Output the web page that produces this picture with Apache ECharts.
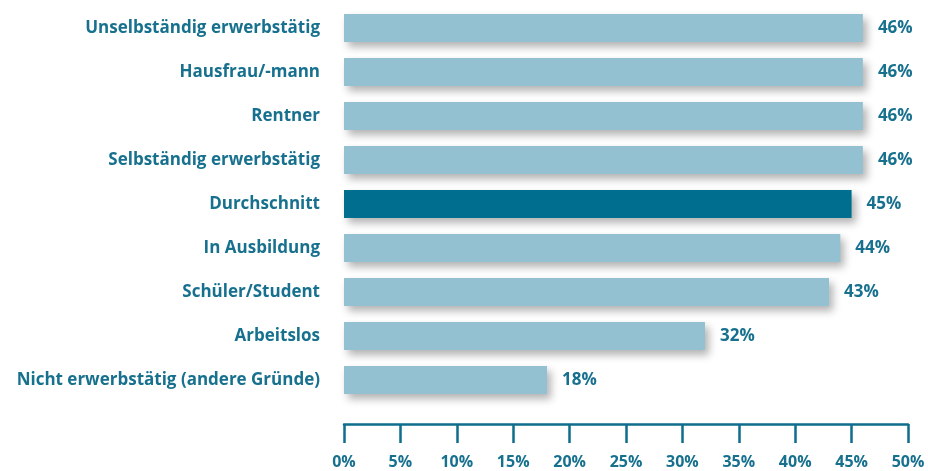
<!DOCTYPE html>
<html><head><meta charset="utf-8">
<script src="https://cdn.jsdelivr.net/npm/echarts@6/dist/echarts.min.js"></script>
<style>html,body{margin:0;padding:0;background:#fff}#c{width:928px;height:471px}</style>
</head><body><div id="c"></div>
<script>
const categories = ["Unselbständig erwerbstätig","Hausfrau/-mann","Rentner","Selbständig erwerbstätig","Durchschnitt","In Ausbildung","Schüler/Student","Arbeitslos","Nicht erwerbstätig (andere Gründe)"];
const values = [46, 46, 46, 46, 45, 44, 43, 32, 18];
const highlight = "Durchschnitt";
const tickLabels = ["0%","5%","10%","15%","20%","25%","30%","35%","40%","45%","50%"];

const textColor = "#17718e";
const font = "Open Sans";
const chart = echarts.init(document.getElementById('c'));
chart.setOption({
  animation:false,
  grid:{left:344,right:20,top:6,bottom:69},
  xAxis:{type:'value',min:0,max:50,interval:5,offset:22,position:'bottom',
    axisLine:{show:true,lineStyle:{color:'#0e6e8c',width:2.5}},
    axisTick:{show:true,length:19,lineStyle:{color:'#0e6e8c',width:2.5}},
    splitLine:{show:false},
    axisLabel:{margin:30,color:textColor,fontFamily:font,fontWeight:'bold',fontSize:16,
      formatter:(v)=>tickLabels[Math.round(v/5)]}},
  yAxis:{type:'category',data:categories,inverse:true,
    axisLine:{show:false},axisTick:{show:false},
    axisLabel:{margin:24,color:textColor,fontFamily:font,fontWeight:'bold',fontSize:17}},
  series:[{type:'bar',barWidth:28,
    data:values.map((v,i)=>({value:v,itemStyle:{color:categories[i]===highlight?'#006e8e':'#93c1d2'}})),
    itemStyle:{shadowBlur:8,shadowOffsetX:4,shadowOffsetY:5,shadowColor:'rgba(0,0,0,0.3)'},
    label:{show:true,position:'right',distance:15,color:textColor,fontFamily:font,fontWeight:'bold',fontSize:17,
      formatter:(p)=>p.value+'%'}}]
});
</script></body></html>
